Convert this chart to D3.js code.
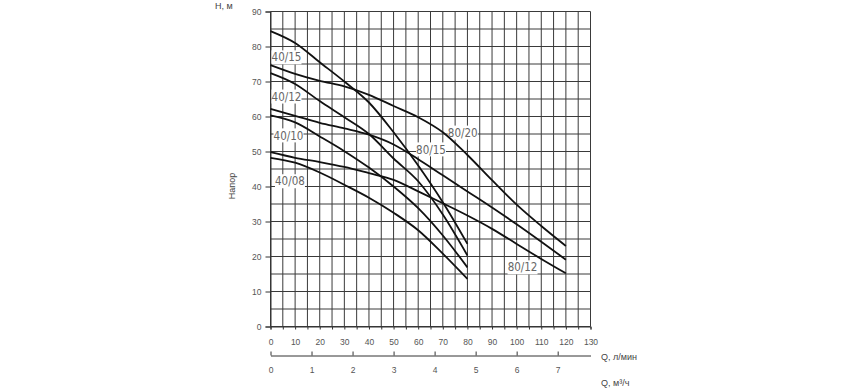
<!DOCTYPE html>
<html>
<head>
<meta charset="utf-8">
<script src="https://cdn.jsdelivr.net/npm/d3@7"></script>
<style>
  body { margin: 0; background: #fff; }
  svg { font-family: "Liberation Sans", Arial, sans-serif; }
</style>
</head>
<body>
<div id="chart-area"></div>
<script>
// flow, l/min
const qSmall = [0, 10, 20, 30, 40, 50, 60, 70, 80];
const qLarge = [0, 10, 20, 30, 40, 50, 60, 70, 80, 90, 100, 110, 120];

// head, m
const h4015 = [84.4, 81, 75.5, 70, 64, 55.5, 46, 35.5, 23.6];
const h4012 = [72.4, 69.3, 64.4, 59.8, 55, 48, 41.5, 32, 20.3];
const h4010 = [60.3, 58.3, 54.3, 50.1, 45.4, 40, 33.8, 26, 16.9];
const h4008 = [48.2, 46.8, 44, 40.5, 36.8, 32.5, 27.5, 20.8, 13.6];
const h8020 = [74.7, 72.2, 70.2, 68.6, 66.2, 63, 59.8, 55.5, 49, 41.8, 34.8, 28.7, 23];
const h8015 = [62.2, 60.2, 58.2, 56.6, 54.8, 52, 47.8, 43.2, 38.6, 34, 29.2, 24.2, 19.1];
const h8012 = [49.8, 48.2, 47, 45.6, 43.8, 41.9, 38.6, 35.2, 31.7, 27.9, 23.6, 19.3, 15.2];

const pumpNames = ["40/15", "40/12", "40/10", "40/08", "80/20", "80/15", "80/12"];
// where each name sits: [Q, H]
const labelAt = [[6.5, 76.9], [6.5, 65.7], [7.3, 54.6], [7.9, 41.5], [78.1, 55.4], [65.2, 50.6], [102.4, 16.9]];

const qTicks = d3.range(0, 131, 10);
const hTicks = d3.range(0, 91, 10);
const m3Ticks = [0, 1, 2, 3, 4, 5, 6, 7];

const svg = d3.select("#chart-area")
    .append("svg")
    .attr("width", 868)
    .attr("height", 388);

let x = d3.scaleLinear().domain([0, 130]).range([270.5, 590.5]);
let y = d3.scaleLinear().domain([0, 90]).range([326.5, 11.5]);
let xm3 = d3.scaleLinear().domain([0, 130 * 60 / 1000]).range([270.5, 590.5]);

// grid every 5
let grid = svg.append("g");
d3.range(0, 131, 5).forEach(function (q) {
    grid.append("line")
        .attr("x1", x(q)).attr("x2", x(q))
        .attr("y1", y(0)).attr("y2", y(90))
        .attr("stroke", "#3a3a3a").attr("stroke-width", 1);
});
d3.range(0, 91, 5).forEach(function (h) {
    grid.append("line")
        .attr("x1", x(0)).attr("x2", x(130))
        .attr("y1", y(h)).attr("y2", y(h))
        .attr("stroke", "#3a3a3a").attr("stroke-width", 1);
});

// axes
let yAxis = svg.append("g")
    .attr("transform", "translate(" + x(0) + ",0)")
    .call(d3.axisLeft(y).tickValues(hTicks).tickSizeOuter(0).tickSize(5).tickPadding(4));

let xAxis = svg.append("g")
    .attr("transform", "translate(0," + y(0) + ")")
    .call(d3.axisBottom(x).tickValues(d3.range(0, 131, 5)).tickSizeOuter(0).tickSize(3)
        .tickPadding(9)
        .tickFormat(d => d % 10 === 0 ? d : ""));

let m3Axis = svg.append("g")
    .attr("transform", "translate(0,355.5)")
    .call(d3.axisBottom(xm3).tickValues(m3Ticks).tickSizeOuter(0).tickSizeInner(-4)
        .tickPadding(11));

[yAxis, xAxis, m3Axis].forEach(function (a) {
    a.selectAll("path, line").attr("stroke", "#333");
    a.selectAll("text").attr("fill", "#555").attr("font-size", 8.5)
        .attr("font-family", "Liberation Sans, Arial, sans-serif");
});

// titles
svg.append("text").attr("x", 215).attr("y", 9).text("H, м")
    .attr("font-size", 9).attr("fill", "#444");
svg.append("text").attr("transform", "translate(235,186) rotate(-90)")
    .attr("text-anchor", "middle").text("Напор")
    .attr("font-size", 9).attr("fill", "#444");
svg.append("text").attr("x", 601).attr("y", 360).text("Q, л/мин")
    .attr("font-size", 9).attr("fill", "#444");
svg.append("text").attr("x", 601).attr("y", 386).text("Q, м³/ч")
    .attr("font-size", 9).attr("fill", "#444");

// white boxes behind the names hide the grid, not the curves
let names = svg.selectAll("g.name").data(pumpNames).enter().append("g")
    .attr("class", "name")
    .attr("transform", (d, i) => "translate(" + x(labelAt[i][0]) + "," + y(labelAt[i][1]) + ")");

names.append("rect")
    .attr("x", -15).attr("y", -7).attr("width", 30).attr("height", 14)
    .attr("fill", "#fff");

// curves
let line = d3.line()
    .x(d => x(d[0]))
    .y(d => y(d[1]))
    .curve(d3.curveMonotoneX);

let series = [
    d3.zip(qSmall, h4015), d3.zip(qSmall, h4012), d3.zip(qSmall, h4010), d3.zip(qSmall, h4008),
    d3.zip(qLarge, h8020), d3.zip(qLarge, h8015), d3.zip(qLarge, h8012)
];

svg.selectAll("path.curve").data(series).enter().append("path")
    .attr("class", "curve")
    .attr("d", line)
    .attr("fill", "none")
    .attr("stroke", "#111")
    .attr("stroke-width", 1.8);

svg.selectAll("text.name").data(pumpNames).enter().append("text")
    .attr("class", "name")
    .attr("x", (d, i) => x(labelAt[i][0]))
    .attr("y", (d, i) => y(labelAt[i][1]))
    .attr("text-anchor", "middle")
    .attr("dy", "0.36em")
    .attr("font-family", "DejaVu Sans Condensed, Liberation Sans Narrow, sans-serif")
    .attr("font-size", 11.5)
    .attr("fill", "#666")
    .text(d => d);
</script>
</body>
</html>
